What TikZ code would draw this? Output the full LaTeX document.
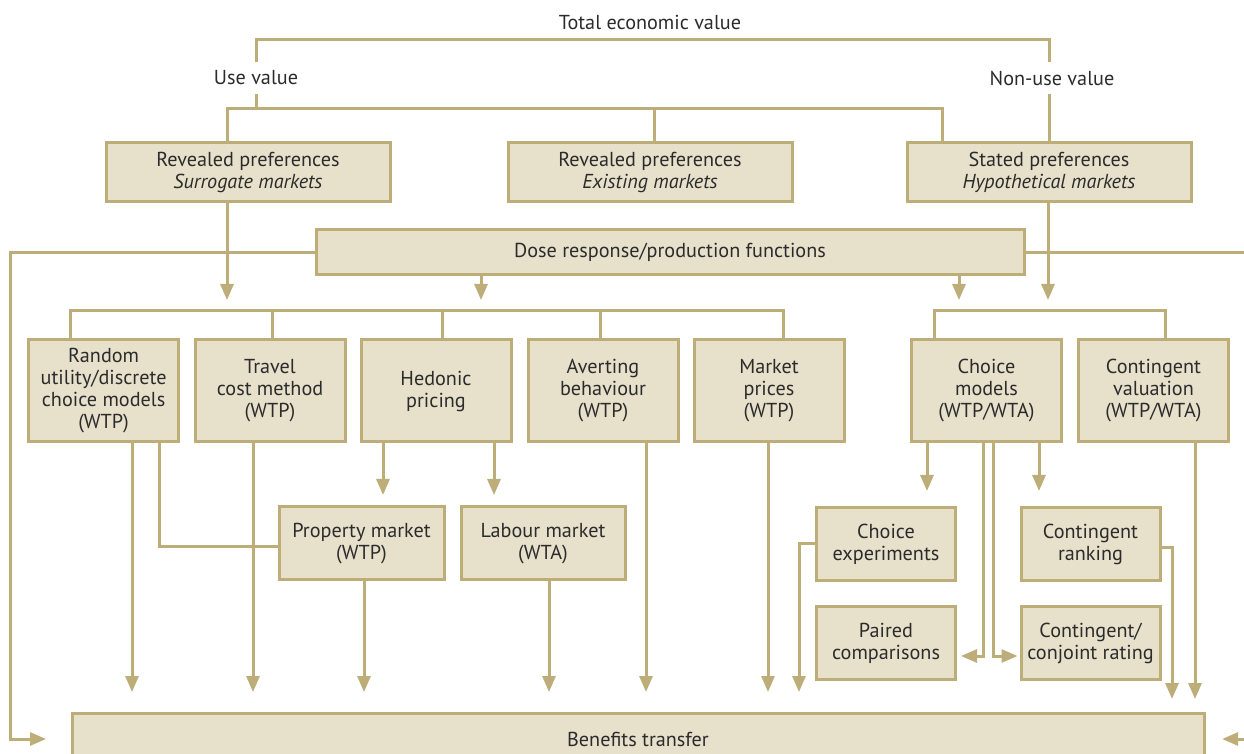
\documentclass[tikz,border=0pt]{standalone}
\usepackage{fontspec}
\setmainfont{PT Sans}
\usetikzlibrary{positioning, calc, arrows.meta}
\definecolor{gold}{HTML}{BDAD78}
\definecolor{sand}{HTML}{E7E0CB}
\definecolor{ink}{HTML}{2B2B2B}

\begin{document}
\begin{tikzpicture}[x=0.5pt, y=-0.5pt, font=\fontsize{10.1}{11}\selectfont, text=ink]
\tikzset{Box/.style={shape=rectangle, draw=gold, fill=sand, line width=1.5pt, align=center, inner sep=0pt}}
\tikzset{Top/.style={Box, minimum width=142pt, minimum height=29.5pt}}
\tikzset{Meth/.style={Box, minimum width=75pt, minimum height=51pt}}
\tikzset{Sub/.style={Box, minimum width=69.5pt, minimum height=36.5pt}}
\tikzset{Tag/.style={shape=rectangle, inner sep=0pt, minimum height=15.5pt}}
\tikzset{Link/.style={draw=gold, line width=1.5pt}}
\tikzset{Arrow/.style={Link, -{Triangle[length=8pt, width=6.5pt]}}}

\clip (0,0) rectangle (1244,754);

% values
\node[Tag] (tev) at (650,22) {Total economic value};
\node[Tag] (use) at (256,78) {Use value};
\node[Tag] (nonuse) at (1052,78) {Non-use value};
\coordinate (tevbar) at (650,40);
\coordinate (usebar) at (256,109);

% preferences
\node[Top] (rpS) at (248,172) {Revealed preferences\\\textit{Surrogate markets}};
\node[Top] (rpE) at (650,172) {Revealed preferences\\\textit{Existing markets}};
\node[Top] (spH) at (1049,172) {Stated preferences\\\textit{Hypothetical markets}};
\node[Box, minimum width=354pt, minimum height=22.5pt] (dose) at (670,252.5) {Dose response/production functions};

% methods
\node[Meth] (rum) at (103.6,391) {Random\\utility/discrete\\choice models\\(WTP)};
\node[Meth] (tc) at (270,391) {Travel\\cost method\\(WTP)};
\node[Meth] (hed) at (436,391) {Hedonic\\pricing};
\node[Meth] (avert) at (603,391) {Averting\\behaviour\\(WTP)};
\node[Meth] (mkt) at (769,391) {Market\\prices\\(WTP)};
\node[Meth] (cm) at (986.5,391) {Choice\\models\\(WTP/WTA)};
\node[Meth] (cv) at (1153.5,391) {Contingent\\valuation\\(WTP/WTA)};

% markets and techniques
\node[Sub, minimum width=82.5pt] (prop) at (361.5,543.5) {Property market\\(WTP)};
\node[Sub, minimum width=82pt] (lab) at (543,543.5) {Labour market\\(WTA)};
\node[Sub] (ce) at (886,544) {Choice\\experiments};
\node[Sub] (pc) at (886,643) {Paired\\comparisons};
\node[Sub] (cr) at (1090.5,544) {Contingent\\ranking};
\node[Sub] (ccr) at (1090.5,643) {Contingent/\\conjoint rating};

\node[Box, minimum width=566pt, minimum height=26pt] (bt) at (638,739) {Benefits transfer};

% ends
\coordinate (a1) at (227,300);
\coordinate (a2) at (481,300);
\coordinate (a3) at (959,300);
\coordinate (a4) at (1048,300);
\coordinate (h1) at (383,495);
\coordinate (h2) at (494,495);
\coordinate (c1) at (927,491);
\coordinate (c2) at (1039,491);
\coordinate (c3) at (983,656);
\coordinate (c4) at (993,656);
\coordinate (d1) at (132,692);
\coordinate (d2) at (253,692);
\coordinate (d3) at (364,692);
\coordinate (d4) at (549,692);
\coordinate (d5) at (646,692);
\coordinate (d6) at (768,692);
\coordinate (d7) at (799,692);
\coordinate (d8) at (1172,699);
\coordinate (d9) at (1195,699);

% top links
\draw[Link] (use.north) |- (tevbar) -| (spH.north |- nonuse.north);
\draw[Link] (spH.north |- nonuse.south) -- (spH.north);
\draw[Link] (use.south) -- (usebar);
\draw[Link] ([xshift=-10.5pt]rpS.north) |- (usebar) -| ([xshift=-53.5pt]spH.north);
\draw[Link] ([xshift=2pt]rpE.north) -- ([xshift=2pt]rpE.north |- usebar);

% down to methods
\draw[Arrow] (rpS.south -| a1) -- (a1);
\draw[Arrow] (dose.south -| a2) -- (a2);
\draw[Arrow] (dose.south -| a3) -- (a3);
\draw[Arrow] (spH.south -| a4) -- (a4);
\draw[Link] ([xshift=-16.8pt]rum.north) -- ++(0,-28) -| ([xshift=7pt]mkt.north);
\draw[Link] ([xshift=1pt]tc.north) -- ++(0,-28);
\draw[Link] ([xshift=3pt]hed.north) -- ++(0,-28);
\draw[Link] ([xshift=-1.5pt]avert.north) -- ++(0,-28);
\draw[Link] ([xshift=-26.25pt]cm.north) -- ++(0,-28) -| ([xshift=5.75pt]cv.north);

% side rails
\draw[Arrow, shorten >=12.25pt] (dose.west) -| ([xshift=-30.25pt]bt.west) -- (bt.west);
\draw[Arrow, shorten >=8.3pt] (dose.east) -| ([xshift=30pt]bt.east) -- (bt.east);

% down to benefits transfer
\draw[Arrow] (rum.south -| d1) -- (d1);
\draw[Link] ([xshift=27.7pt]rum.south) |- ([yshift=-1.5pt]prop.west);
\draw[Arrow] (tc.south -| d2) -- (d2);
\draw[Arrow] (hed.south -| h1) -- (h1);
\draw[Arrow] (hed.south -| h2) -- (h2);
\draw[Arrow] (prop.south -| d3) -- (d3);
\draw[Arrow] (lab.south -| d4) -- (d4);
\draw[Arrow] (avert.south -| d5) -- (d5);
\draw[Arrow] (mkt.south -| d6) -- (d6);
\draw[Arrow] (cm.south -| c1) -- (c1);
\draw[Arrow] (cm.south -| c2) -- (c2);
\draw[Arrow, shorten >=2pt] (cm.south -| c3) -- (c3) -- (c3 -| pc.east);
\draw[Arrow, shorten >=1pt] (cm.south -| c4) -- (c4) -- (c4 -| ccr.west);
\draw[Arrow] (ce.west) -| (d7);
\draw[Arrow] ([yshift=-2pt]cr.east) -| (d8);
\draw[Arrow] (cv.south -| d9) -- (d9);
\end{tikzpicture}
\end{document}
